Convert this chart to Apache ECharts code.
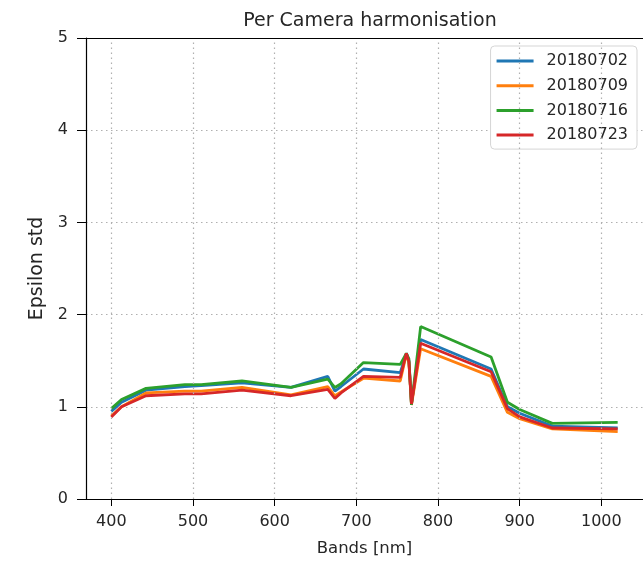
<!DOCTYPE html>
<html><head><meta charset="utf-8">
<script src="https://cdn.jsdelivr.net/npm/echarts@6/dist/echarts.min.js"></script>
<style>html,body{margin:0;padding:0;background:#fff}#c{width:643px;height:562px}</style>
</head><body><div id="c"></div>
<script>
const bands = [400, 412.5, 442.5, 490, 510, 560, 620, 665, 673.75, 681.25, 708.75, 753.75, 761.25, 764.375, 767.5, 778.75, 865, 885, 900, 940, 1020];
const s20180702 = [0.95, 1.05, 1.18, 1.22, 1.23, 1.26, 1.21, 1.33, 1.17, 1.22, 1.41, 1.37, 1.58, 1.50, 1.03, 1.73, 1.41, 1.00, 0.93, 0.79, 0.77];
const s20180709 = [0.90, 1.00, 1.15, 1.17, 1.17, 1.21, 1.13, 1.22, 1.12, 1.16, 1.31, 1.28, 1.57, 1.48, 1.02, 1.63, 1.33, 0.94, 0.87, 0.76, 0.73];
const s20180716 = [0.98, 1.08, 1.20, 1.24, 1.24, 1.28, 1.21, 1.30, 1.21, 1.25, 1.48, 1.46, 1.58, 1.52, 1.02, 1.87, 1.54, 1.05, 0.97, 0.82, 0.83];
const s20180723 = [0.89, 1.00, 1.12, 1.14, 1.14, 1.18, 1.12, 1.19, 1.09, 1.15, 1.33, 1.32, 1.58, 1.49, 1.03, 1.69, 1.38, 0.98, 0.89, 0.77, 0.76];
const names = ['20180702', '20180709', '20180716', '20180723'];
const seriesData = [s20180702, s20180709, s20180716, s20180723];
const colors = ['#1f77b4', '#ff7f0e', '#2ca02c', '#d62728'];
const xTicks = [400, 500, 600, 700, 800, 900, 1000];

const chart = echarts.init(document.getElementById('c'));
const txt = '#262626';
const FONT = 'DejaVu Sans';
const series = names.map((n, i) => ({
  name: n, type: 'line', symbol: 'none', z: 3,
  data: bands.map((b, j) => [b, seriesData[i][j]]),
  lineStyle: { width: 2.8, color: colors[i] }, itemStyle: { color: colors[i] }
}));
series.push({
  type: 'line', name: 'grid', data: [[400, -10]], symbol: 'none', z: 1, silent: true,
  lineStyle: { width: 0 },
  markLine: {
    silent: true, symbol: 'none', label: { show: false },
    lineStyle: { type: [1.5, 3.5], color: '#b0b0b0', width: 1.2 },
    data: xTicks.map(v => ({ xAxis: v }))
  }
});
chart.setOption({
  animation: false,
  title: { text: 'Per Camera harmonisation', left: 365, top: 7, textAlign: 'center',
    textStyle: { fontFamily: FONT, fontSize: 19, fontWeight: 'normal', color: txt } },
  legend: {
    data: names, orient: 'vertical', right: 6, top: 46,
    backgroundColor: '#fff', borderColor: '#d5d5d5', borderWidth: 1, borderRadius: 4,
    padding: [7, 9, 6, 6], itemGap: 8.7, itemWidth: 37, itemHeight: 16,
    icon: 'path://M0,6.5 L37,6.5 L37,9.5 L0,9.5 Z',
    textStyle: { fontFamily: FONT, fontSize: 16, color: txt, padding: [0, 0, 0, 8] }
  },
  grid: { left: 86, right: 0, top: 38, bottom: 63 },
  xAxis: {
    type: 'value', min: 369, max: 1051,
    name: 'Bands [nm]', nameLocation: 'middle', nameGap: 41,
    nameTextStyle: { fontFamily: FONT, fontSize: 16.5, color: txt },
    axisLine: { onZero: false, lineStyle: { color: '#000', width: 1.2 } },
    axisTick: { show: true, length: 7, customValues: xTicks, lineStyle: { color: '#000' } },
    axisLabel: { customValues: xTicks, formatter: v => String(v), fontFamily: FONT, fontSize: 16, color: txt, margin: 15 },
    splitLine: { show: false }
  },
  yAxis: {
    type: 'value', min: 0, max: 5, interval: 1,
    name: 'Epsilon std', nameLocation: 'middle', nameGap: 39,
    nameTextStyle: { fontFamily: FONT, fontSize: 19, color: txt },
    axisLine: { show: true, onZero: false, lineStyle: { color: '#000', width: 1.2 } },
    axisTick: { show: true, length: 9, lineStyle: { color: '#000' } },
    axisLabel: { fontFamily: FONT, fontSize: 16, color: txt, margin: 18 },
    splitLine: { show: true, lineStyle: { type: [1.5, 3.5], color: '#b0b0b0', width: 1.2 } }
  },
  graphic: [{ type: 'line', shape: { x1: 86, y1: 38.5, x2: 643, y2: 38.5 }, style: { stroke: '#000', lineWidth: 1.2 }, z: 10 }],
  series: series
});
</script></body></html>
